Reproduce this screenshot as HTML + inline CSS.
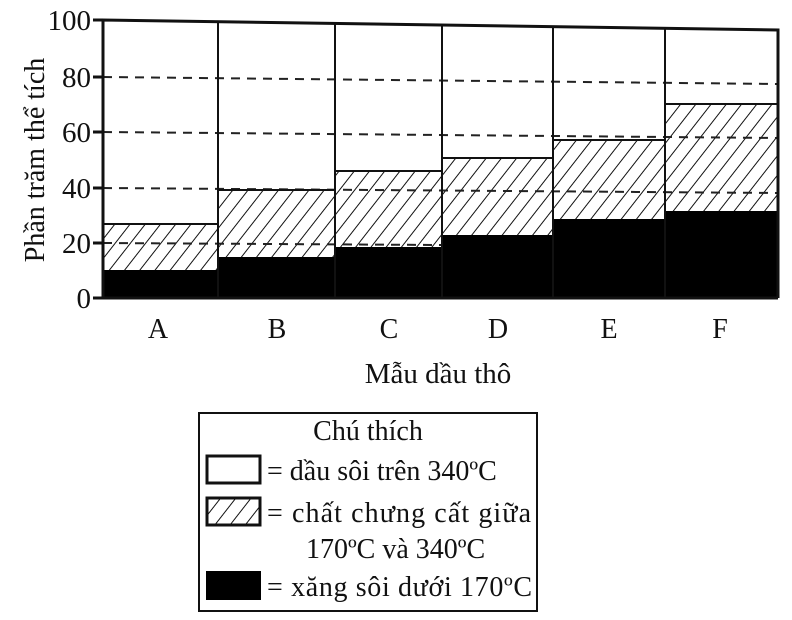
<!DOCTYPE html>
<html><head><meta charset="utf-8"><style>
html,body{margin:0;padding:0;background:#fff;}
svg{display:block;}
text{font-family:"Liberation Serif",serif;fill:#111;}
</style></head><body>
<svg width="792" height="620" viewBox="0 0 792 620" xmlns="http://www.w3.org/2000/svg">
<defs>
<pattern id="h" patternUnits="userSpaceOnUse" width="12" height="12" patternTransform="rotate(38)">
<rect width="12" height="12" fill="#fff"/>
<line x1="0" y1="0" x2="0" y2="12" stroke="#111" stroke-width="2"/>
</pattern>
</defs>
<polygon points="103,20 778,30 778,298 103,298" fill="#fff"/>
<rect x="103" y="224" width="115" height="74" fill="url(#h)"/>
<rect x="218" y="190" width="117" height="108" fill="url(#h)"/>
<rect x="335" y="171" width="107" height="127" fill="url(#h)"/>
<rect x="442" y="158" width="111" height="140" fill="url(#h)"/>
<rect x="553" y="140" width="112" height="158" fill="url(#h)"/>
<rect x="665" y="104" width="113" height="194" fill="url(#h)"/>
<g stroke="#222" stroke-width="2" stroke-dasharray="9,7">
<line x1="103" y1="77" x2="778" y2="84"/>
<line x1="103" y1="132" x2="778" y2="138"/>
<line x1="103" y1="188" x2="778" y2="193"/>
<line x1="103" y1="243" x2="778" y2="247"/>
</g>
<rect x="103" y="270" width="115" height="28" fill="#000"/>
<rect x="218" y="257" width="117" height="41" fill="#000"/>
<rect x="335" y="247" width="107" height="51" fill="#000"/>
<rect x="442" y="235" width="111" height="63" fill="#000"/>
<rect x="553" y="219" width="112" height="79" fill="#000"/>
<rect x="665" y="211" width="113" height="87" fill="#000"/>
<g stroke="#111" stroke-width="2">
<line x1="103" y1="224" x2="218" y2="224"/>
<line x1="218" y1="190" x2="335" y2="190"/>
<line x1="335" y1="171" x2="442" y2="171"/>
<line x1="442" y1="158" x2="553" y2="158"/>
<line x1="553" y1="140" x2="665" y2="140"/>
<line x1="665" y1="104" x2="778" y2="104"/>
<line x1="218" y1="22" x2="218" y2="298"/>
<line x1="335" y1="24" x2="335" y2="298"/>
<line x1="442" y1="26" x2="442" y2="298"/>
<line x1="553" y1="28" x2="553" y2="298"/>
<line x1="665" y1="29" x2="665" y2="298"/>
</g>
<polyline points="103,298 103,20 778,30 778,298" fill="none" stroke="#111" stroke-width="3"/>
<line x1="93" y1="298" x2="778" y2="298" stroke="#111" stroke-width="3"/>
<g stroke="#111" stroke-width="3">
<line x1="93" y1="20" x2="103" y2="20"/><line x1="93" y1="77" x2="103" y2="77"/>
<line x1="93" y1="132" x2="103" y2="132"/><line x1="93" y1="188" x2="103" y2="188"/>
<line x1="93" y1="243" x2="103" y2="243"/>
</g>
<g font-size="29" text-anchor="end">
<text x="91" y="30">100</text><text x="91" y="87">80</text><text x="91" y="142">60</text>
<text x="91" y="198">40</text><text x="91" y="253">20</text><text x="91" y="308">0</text>
</g>
<text transform="translate(44,160) rotate(-90)" font-size="28" text-anchor="middle">Phần trăm thể tích</text>
<g font-size="28" text-anchor="middle">
<text x="158" y="338">A</text><text x="277" y="338">B</text><text x="389" y="338">C</text>
<text x="498" y="338">D</text><text x="609" y="338">E</text><text x="720" y="338">F</text>
</g>
<text x="438" y="383" font-size="29" text-anchor="middle">Mẫu dầu thô</text>
<rect x="199" y="413" width="338" height="198" fill="#fff" stroke="#111" stroke-width="2"/>
<text x="368" y="440" font-size="28" text-anchor="middle">Chú thích</text>
<rect x="207" y="456" width="53" height="27" fill="#fff" stroke="#111" stroke-width="3"/>
<rect x="207" y="498" width="53" height="27" fill="url(#h)" stroke="#111" stroke-width="3"/>
<rect x="206" y="571" width="55" height="29" fill="#000"/>
<text x="267" y="480" font-size="28">= dầu sôi trên 340ºC</text>
<text x="267" y="522" font-size="28" textLength="264">= chất chưng cất giữa</text>
<text x="306" y="558" font-size="28">170ºC và 340ºC</text>
<text x="267" y="596" font-size="28" textLength="265">= xăng sôi dưới 170ºC</text>
</svg>
</body></html>
